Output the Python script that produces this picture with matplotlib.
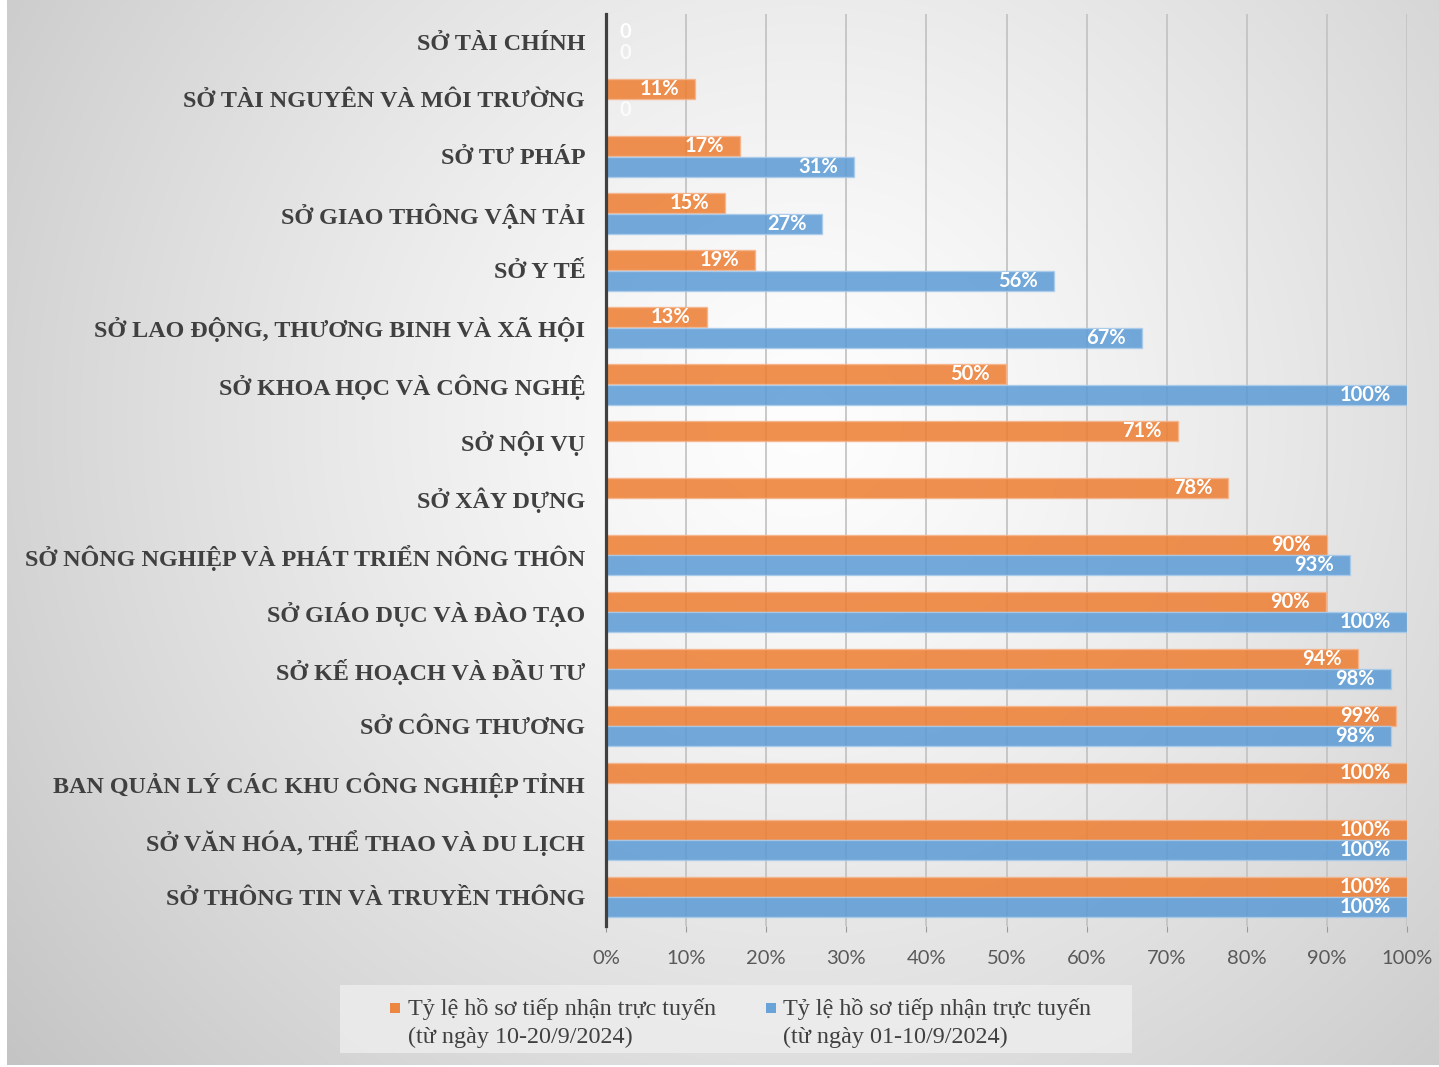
import numpy as np
import matplotlib
matplotlib.use("Agg")
import matplotlib.pyplot as plt
from matplotlib.patches import Rectangle

# ---- data ----
categories = [
    "SỞ TÀI CHÍNH",
    "SỞ TÀI NGUYÊN VÀ MÔI TRƯỜNG",
    "SỞ TƯ PHÁP",
    "SỞ GIAO THÔNG VẬN TẢI",
    "SỞ Y TẾ",
    "SỞ LAO ĐỘNG, THƯƠNG BINH VÀ XÃ HỘI",
    "SỞ KHOA HỌC VÀ CÔNG NGHỆ",
    "SỞ NỘI VỤ",
    "SỞ XÂY DỰNG",
    "SỞ NÔNG NGHIỆP VÀ PHÁT TRIỂN NÔNG THÔN",
    "SỞ GIÁO DỤC VÀ ĐÀO TẠO",
    "SỞ KẾ HOẠCH VÀ ĐẦU TƯ",
    "SỞ CÔNG THƯƠNG",
    "BAN QUẢN LÝ CÁC KHU CÔNG NGHIỆP TỈNH",
    "SỞ VĂN HÓA, THỂ THAO VÀ DU LỊCH",
    "SỞ THÔNG TIN VÀ TRUYỀN THÔNG",
]
orange_vals = [0, 11.1, 16.7, 14.9, 18.6, 12.6, 49.9, 71.4, 77.7, 90.0, 89.9, 93.9, 98.6, 100, 100, 100]
blue_vals = [0, 0, 31.0, 27.0, 55.9, 66.9, 100, np.nan, np.nan, 92.9, 100, 98.0, 98.0, np.nan, 100, 100]
x_ticks = [0, 10, 20, 30, 40, 50, 60, 70, 80, 90, 100]
legend_labels = ["Tỷ lệ hồ sơ tiếp nhận trực tuyến\n(từ ngày 10-20/9/2024)",
                 "Tỷ lệ hồ sơ tiếp nhận trực tuyến\n(từ ngày 01-10/9/2024)"]

ORANGE = "#ED7D31"
BLUE = "#5B9BD5"
W, H = 1439, 1067

fig = plt.figure(figsize=(W / 100, H / 100), dpi=100)
fig.patch.set_facecolor("white")

# background card with radial gradient
bg = fig.add_axes([7 / W, 2 / H, 1 - 7 / W, 1 - 2 / H])
bg.axis("off")
yy, xx = np.mgrid[0:H, 0:W]
r = np.hypot(xx - 800, yy - 420) / 1040.0
shade = np.clip(0.995 - 0.23 * r ** 1.3, 0, 1)
bg.imshow(np.dstack([shade] * 3), aspect="auto", extent=[0, 1, 0, 1], origin="upper")

# legend box
bg.add_patch(Rectangle(((340 - 7) / (W - 7), 1 - 1055 / H), (1132 - 340) / (W - 7), 68 / H,
                       transform=bg.transAxes, fc="#eeeeee", ec="none", alpha=0.8))

# main chart
top, bot, left, right = 14, 925.5, 606, 1407
ax = fig.add_axes([left / W, 1 - bot / H, (right - left) / W, (bot - top) / H])
ax.set_facecolor("none")
y = np.arange(len(categories))
h = 0.35
off = 0.18
ax.barh(y - off, orange_vals, height=h, color=ORANGE, alpha=0.85,
        edgecolor="#f6b48a", linewidth=1, zorder=2)
ax.barh(y + off, blue_vals, height=h, color=BLUE, alpha=0.85,
        edgecolor="#a9cbeb", linewidth=1, zorder=2)

for yi, v in zip(y - off, orange_vals):
    if np.isnan(v):
        continue
    if v == 0:
        ax.text(1.7, yi, "0", color="white", fontsize=14.5, fontweight="bold",
                family="Lato", ha="left", va="center", zorder=3)
    else:
        ax.text(v - 2.0, yi, f"{v:.0f}%", color="white", fontsize=14.5, fontweight="bold",
                family="Lato", ha="right", va="center", zorder=3)
for yi, v in zip(y + off, blue_vals):
    if np.isnan(v):
        continue
    if v == 0:
        ax.text(1.7, yi, "0", color="white", fontsize=14.5, fontweight="bold",
                family="Lato", ha="left", va="center", zorder=3, alpha=0.8)
    else:
        ax.text(v - 2.0, yi, f"{v:.0f}%", color="white", fontsize=14.5, fontweight="bold",
                family="Lato", ha="right", va="center", zorder=3)

ax.set_xlim(0, 100)
ax.set_ylim(len(categories) - 0.5, -0.5)
ax.set_xticks(x_ticks)
ax.set_xticklabels([f"{t}%" for t in x_ticks], fontsize=14.5, family="Lato", color="#595959")
ax.set_yticks(y)
ax.set_yticklabels(categories, fontsize=17.4, family="Liberation Serif", fontweight="bold",
                   color="#404040")
ax.tick_params(axis="y", length=0, pad=15)
ax.tick_params(axis="x", length=4, color="#9a9a9a", pad=14)
ax.xaxis.grid(True, color="#c4c4c4", linewidth=1.3, zorder=0)
ax.set_axisbelow(True)
for s in ("top", "right", "bottom"):
    ax.spines[s].set_visible(False)
ax.spines["left"].set_color("#404040")
ax.spines["left"].set_linewidth(2.3)
ax.spines["left"].set_zorder(4)

# legend (manual, matching layout)
for (mx, tx), col, lab in zip([(395, 408), (771, 783)], [ORANGE, BLUE], legend_labels):
    fig.patches.append(Rectangle(((mx - 5) / W, 1 - 1013 / H), 10 / W, 10 / H,
                                 transform=fig.transFigure, fc=col, ec="none", alpha=0.9))
    fig.text(tx / W, 1 - 998 / H, lab, fontsize=17.4, family="Liberation Serif",
             color="#404040", ha="left", va="top", linespacing=1.45)

fig.savefig("out.png", dpi=100)
